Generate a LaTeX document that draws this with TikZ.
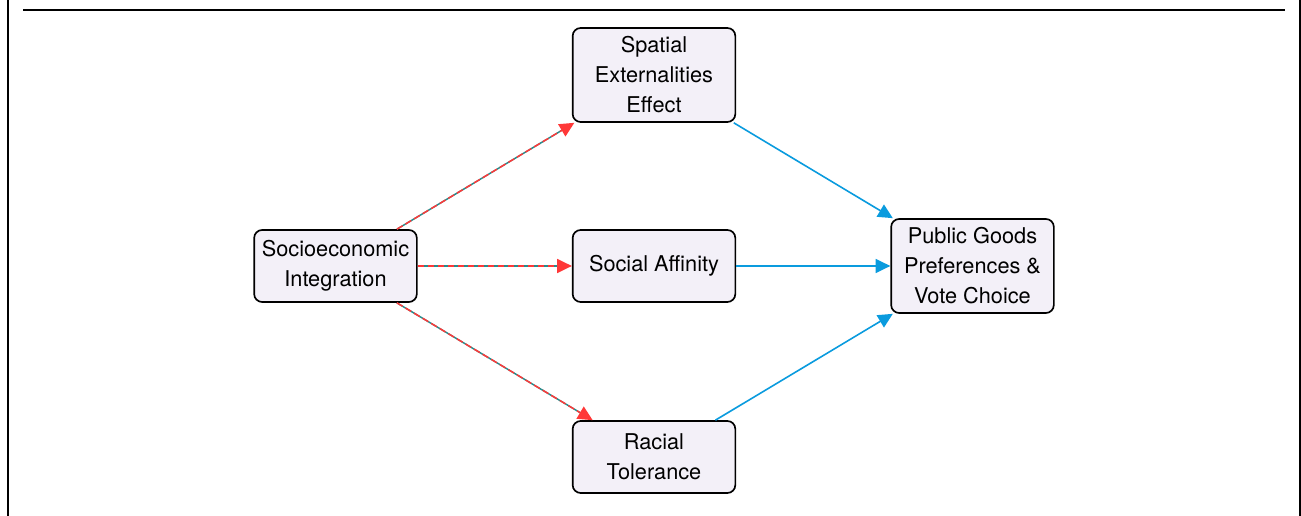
\documentclass[tikz,border=0pt]{standalone}
\usepackage{fontspec}
\setmainfont{TeX Gyre Heros}
\usepackage{xcolor}
\definecolor{boxfill}{RGB}{243,240,248}
\definecolor{pathblue}{RGB}{10,155,222}
\definecolor{pathred}{RGB}{255,56,56}
\definecolor{pathteal}{RGB}{40,140,140}
\usetikzlibrary{arrows.meta}
\usetikzlibrary{positioning}

\tikzset{
    factor/.style = {draw=black, fill=boxfill, line width=1.25pt, rounded corners=6pt,
        minimum width=122pt, align=center, inner sep=0pt,
        font=\fontsize{16.3}{22.5}\selectfont},
    bluearrow/.style = {draw=pathblue, line width=1.2pt, -{Triangle[length=11pt,width=10.5pt]}},
    tealline/.style = {draw=pathteal, line width=1.1pt},
    redarrow/.style = {draw=pathred, line width=1.1pt, dash pattern=on 5pt off 2.5pt,
        -{Triangle[length=11pt,width=10.5pt]}}
}

\begin{document}
\begin{tikzpicture}[x=0.75pt, y=0.75pt]

    \useasboundingbox (0,0) rectangle (1301,516);
    % frame
    \draw[line width=1.5pt] (8,0) -- (8,516);
    \draw[line width=1.5pt] (1299.5,0) -- (1299.5,516);
    \draw[line width=1.5pt] (23,506) -- (1285,506);

    \node[factor, minimum height=54pt] (socio) at (335.5,250) {Socioeconomic\\Integration};
    \node[factor, minimum height=70.5pt] (spatial) at (654,441) {Spatial\\Externalities\\Effect};
    \node[factor, minimum height=54pt] (affinity) at (654,250) {Social Affinity};
    \node[factor, minimum height=54pt] (racial) at (654,59) {Racial\\Tolerance};
    \node[factor, minimum height=70.5pt] (public) at (972.5,250) {Public Goods\\Preferences \&\\Vote Choice};

    \foreach \target in {spatial, affinity, racial}{
        \draw[tealline, shorten >=8pt] (socio) -- (\target);
        \draw[redarrow] (socio) -- (\target);
    }

    \foreach \source in {spatial, affinity, racial}
        \draw[bluearrow] (\source) -- (public);

\end{tikzpicture}
\end{document}
